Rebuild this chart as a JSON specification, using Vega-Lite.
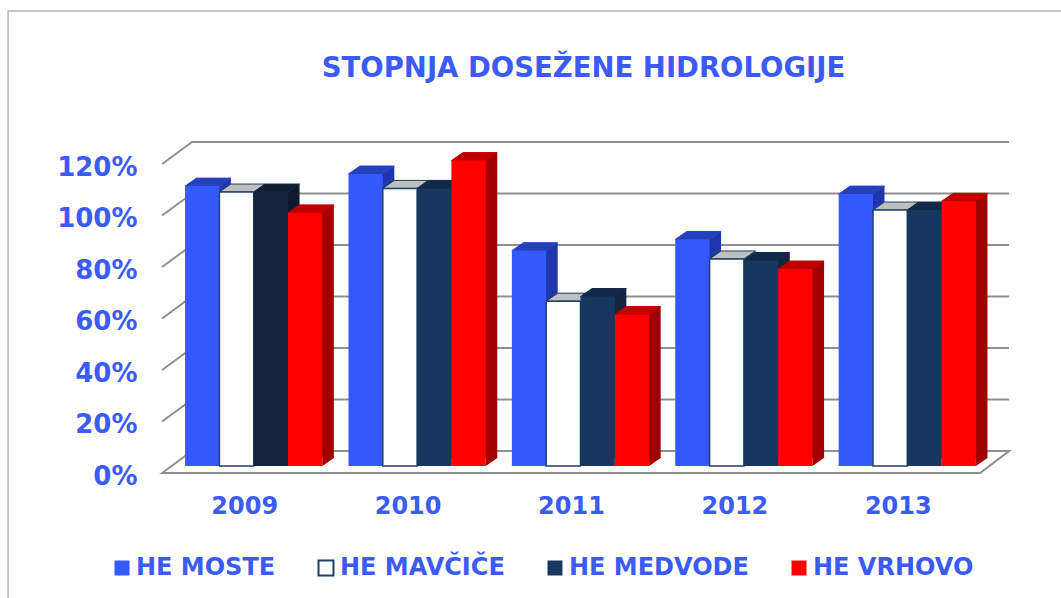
{
"$schema":"https://vega.github.io/schema/vega-lite/v6.json",
"width":817,"height":309,
"autosize":{"type":"none"},
"padding":{"left":172,"top":157,"right":72,"bottom":132},
"background":"#ffffff",
"config":{"view":{"stroke":null},"axis":{"grid":false,"domain":false,"ticks":false}},
"datasets":{"bars":[
{"year":"2009","series":"HE MOSTE","value":108.7},{"year":"2009","series":"HE MAVČIČE","value":106.4},{"year":"2009","series":"HE MEDVODE","value":106.4},{"year":"2009","series":"HE VRHOVO","value":98.3},
{"year":"2010","series":"HE MOSTE","value":113.4},{"year":"2010","series":"HE MAVČIČE","value":107.8},{"year":"2010","series":"HE MEDVODE","value":107.8},{"year":"2010","series":"HE VRHOVO","value":118.6},
{"year":"2011","series":"HE MOSTE","value":83.6},{"year":"2011","series":"HE MAVČIČE","value":64},{"year":"2011","series":"HE MEDVODE","value":65.8},{"year":"2011","series":"HE VRHOVO","value":58.8},
{"year":"2012","series":"HE MOSTE","value":88},{"year":"2012","series":"HE MAVČIČE","value":80.4},{"year":"2012","series":"HE MEDVODE","value":79.8},{"year":"2012","series":"HE VRHOVO","value":76.5},
{"year":"2013","series":"HE MOSTE","value":105.6},{"year":"2013","series":"HE MAVČIČE","value":99.4},{"year":"2013","series":"HE MEDVODE","value":99.4},{"year":"2013","series":"HE VRHOVO","value":102.8}
],
"ticks":[{"tick":0},{"tick":20},{"tick":40},{"tick":60},{"tick":80},{"tick":100},{"tick":120}],
"frame":[{"name":"STOPNJA DOSEŽENE HIDROLOGIJE"}]},
"encoding":{},
"layer":[
{"data":{"name":"frame"},
 "mark":{"type":"point","shape":"M-177,140L-177,-455L880,-455","size":4,"filled":false,"stroke":"#B4B4B4","strokeWidth":1.5,"opacity":1},
 "encoding":{"x":{"datum":"2009","type":"nominal","bandPosition":0,"scale":{"paddingInner":0.16,"paddingOuter":0.08},"sort":null,"axis":{"title":null,"labelAngle":0,"labelFont":"DejaVu Sans","labelFontSize":24,"labelFontWeight":"bold","labelColor":"#3A5BF5","labelOffset":-9,"labelPadding":28}},
 "y":{"datum":0,"type":"quantitative","scale":{"domain":[0,120],"nice":false},"axis":{"title":null,"values":[0,20,40,60,80,100,120],"labelExpr":"datum.value+'%'","labelFont":"DejaVu Sans","labelFontSize":26,"labelFontWeight":"bold","labelColor":"#3A5BF5","labelOffset":10,"labelPadding":35}}}},
{"data":{"name":"frame"},
 "mark":{"type":"text","font":"DejaVu Sans","fontSize":27.5,"fontWeight":"bold","color":"#3A5BF5","align":"center","baseline":"middle","dx":3,"dy":-88},
 "encoding":{"x":{"datum":"2011","type":"nominal"},"y":{"datum":120,"type":"quantitative"},"text":{"field":"name","type":"nominal"}}},
{"data":{"name":"ticks"},
 "transform":[{"filter":"datum.tick>0"}],
 "mark":{"type":"point","shape":"M-23,7L7,-15L824,-15","size":4,"filled":false,"stroke":"#8F8F8F","strokeWidth":2,"opacity":1},
 "encoding":{"x":{"datum":"2009","type":"nominal","bandPosition":0},"y":{"field":"tick","type":"quantitative"}}},
{"data":{"name":"ticks"},
 "transform":[{"filter":"datum.tick===0"}],
 "mark":{"type":"point","shape":"M-23,7L7,-15L824,-15L795,7Z","size":4,"filled":true,"fill":"#ffffff","stroke":"#8F8F8F","strokeWidth":2,"opacity":1},
 "encoding":{"x":{"datum":"2009","type":"nominal","bandPosition":0},"y":{"field":"tick","type":"quantitative"}}},
{"data":{"name":"bars"},
 "mark":{"type":"bar","yOffset":-8,"y2Offset":-8},
 "encoding":{"x":{"field":"year","type":"nominal"},"xOffset":{"field":"series","type":"nominal","sort":null,"scale":{"range":[11.5,148.8]}},"y":{"field":"value","type":"quantitative"},
 "color":{"condition":{"test":"datum.series==='HE MEDVODE'&&datum.year==='2009'","value":"#0C1A2C"},"field":"series","type":"nominal","sort":null,"legend":null,"scale":{"domain":["HE MOSTE","HE MAVČIČE","HE MEDVODE","HE VRHOVO"],"range":["#2036AC","#17375E","#0F2540","#A00000"]}}}},
{"data":{"name":"bars"},
 "mark":{"type":"point","shape":"M17.15,0L28.65,-8L17.15,-8Z","size":4,"filled":true,"opacity":1},
 "encoding":{"x":{"field":"year","type":"nominal"},"xOffset":{"field":"series","type":"nominal","sort":null},"y":{"datum":0,"type":"quantitative"},
 "color":{"field":"series","type":"nominal","sort":null,"legend":null,"scale":{"domain":["HE MOSTE","HE MAVČIČE","HE MEDVODE","HE VRHOVO"],"range":["#2036AC","#17375E","#0F2540","#A00000"]}}}},
{"data":{"name":"bars"},
 "mark":{"type":"point","shape":"M-17.15,0L-5.65,-8L28.65,-8L17.15,0Z","size":4,"filled":true,"opacity":1,"strokeWidth":1},
 "encoding":{"x":{"field":"year","type":"nominal"},"xOffset":{"field":"series","type":"nominal","sort":null},"y":{"field":"value","type":"quantitative"},
 "stroke":{"field":"series","type":"nominal","sort":null,"legend":null,"scale":{"domain":["HE MOSTE","HE MAVČIČE","HE MEDVODE","HE VRHOVO"],"range":["#2A44C8","#1F3F66","#12294A","#C00000"]}},
 "color":{"condition":{"test":"datum.series==='HE MEDVODE'&&datum.year==='2009'","value":"#0E1E33"},"field":"series","type":"nominal","sort":null,"legend":null,"scale":{"domain":["HE MOSTE","HE MAVČIČE","HE MEDVODE","HE VRHOVO"],"range":["#2440BC","#BFBFBF","#12294A","#C00000"]}}}},
{"data":{"name":"bars"},
 "mark":{"type":"bar","strokeWidth":1.5},
 "encoding":{"x":{"field":"year","type":"nominal"},"xOffset":{"field":"series","type":"nominal","sort":null},"y":{"field":"value","type":"quantitative"},
 "stroke":{"condition":{"test":"datum.series==='HE MAVČIČE'","value":"#1F3F66"},"value":null},
 "color":{"condition":{"test":"datum.series==='HE MEDVODE'&&datum.year==='2009'","value":"#12243C"},"field":"series","type":"nominal","sort":null,
 "scale":{"domain":["HE MOSTE","HE MAVČIČE","HE MEDVODE","HE VRHOVO"],"range":["#3359FF","#FFFFFF","#17375E","#FF0000"]},
 "legend":{"title":null,"orient":"none","legendX":-62,"legendY":399,"direction":"horizontal","columns":4,"gridAlign":"none","columnPadding":38,"symbolType":"square","symbolSize":225,"symbolStrokeWidth":2,"labelFont":"DejaVu Sans","labelFontSize":24,"labelFontWeight":"bold","labelColor":"#3A5BF5","labelOffset":2,"labelLimit":300,"symbolOpacity":1,
 "encoding":{"symbols":{"stroke":{"value":{"signal":"datum.value==='HE MAVČIČE'?'#1F3F66':'transparent'"}}}}}}}}
],
"resolve":{"scale":{"color":"independent","xOffset":"independent"}}
}
